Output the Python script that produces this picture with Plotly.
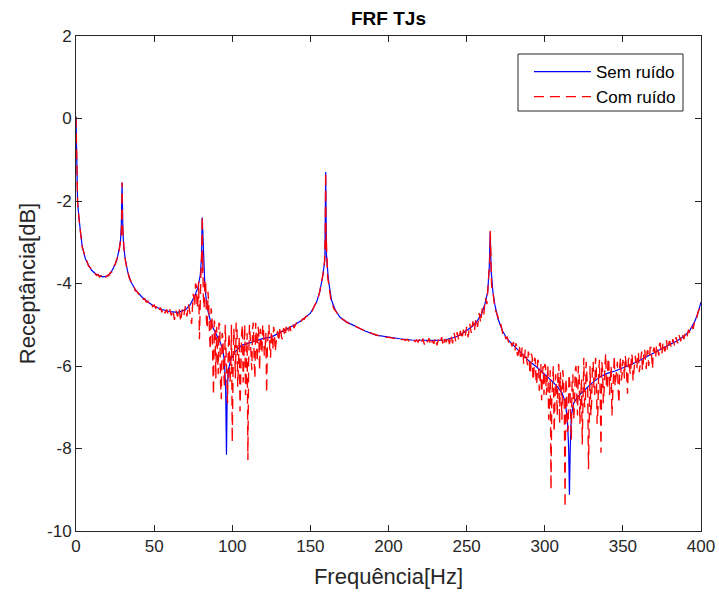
import plotly.graph_objects as go

# ---------------- data ----------------
# Clean FRF ("Sem ruído"): frequency [Hz] and receptance [dB]
blue_f = [0, 0.3, 0.6, 1, 1.5, 2, 3, 4, 5, 6, 8, 10, 13, 17, 20, 22, 24, 26, 27.5, 28.5, 29, 29.5,
          30, 30.5, 31.5, 33, 35, 38, 42, 46, 50, 55, 60, 65, 70, 73, 76, 78, 79.5, 80.3, 80.8, 81.6,
          82.5, 84, 86, 88, 90, 92, 94, 95, 95.8, 96.3, 96.8, 97.5, 99, 102, 106, 110, 115, 120, 125,
          130, 135, 140, 145, 150, 154, 156, 158, 159.3, 159.8, 160.3, 161.5, 163.5, 166, 169, 173,
          178, 185, 192, 200, 207, 215, 222, 230, 236, 241, 246, 250, 254, 257, 260, 262, 263.5,
          264.5, 265.1, 265.7, 266.8, 268, 270, 273, 276, 280, 285, 290, 295, 300, 305, 308, 311,
          313, 314.5, 315.3, 315.8, 316.3, 317, 318.5, 321, 325, 330, 335, 340, 345, 350, 355, 360,
          365, 370, 375, 380, 385, 390, 393, 396, 398, 400]
blue_v = [0.05, -1.0, -1.75, -2.0, -2.25, -2.5, -2.8, -3.1, -3.25, -3.4, -3.55, -3.68, -3.78, -3.84,
          -3.82, -3.76, -3.62, -3.45, -3.2, -2.95, -2.6, -1.55,
          -2.7, -3.1, -3.4, -3.7, -3.95, -4.15, -4.32, -4.45, -4.55, -4.63, -4.68, -4.7, -4.64, -4.52,
          -4.3, -4.1, -3.8, -3.4, -2.4, -3.5,
          -4.1, -4.6, -4.9, -5.1, -5.25, -5.4, -5.6, -5.9, -6.6, -8.15, -6.6, -6.1, -5.85, -5.65, -5.5,
          -5.45, -5.38, -5.33, -5.3,
          -5.2, -5.12, -5.0, -4.88, -4.72, -4.45, -4.2, -3.8, -3.4, -1.3, -3.3, -3.9, -4.4, -4.65,
          -4.82, -4.93,
          -5.02, -5.15, -5.25, -5.3, -5.34, -5.37, -5.38, -5.38, -5.37, -5.32, -5.25, -5.15, -5.03,
          -4.9, -4.7, -4.45, -4.2,
          -3.6, -2.75, -3.7, -4.2, -4.5, -4.85, -5.15, -5.35, -5.5, -5.7, -5.88, -6.03, -6.2, -6.38,
          -6.5, -6.65,
          -6.85, -7.3, -8.0, -9.12, -8.0, -7.2, -6.9, -6.75, -6.6, -6.42, -6.27, -6.18, -6.12, -6.05,
          -5.97, -5.88,
          -5.78, -5.68, -5.58, -5.48, -5.38, -5.25, -5.13, -4.92, -4.72, -4.45]

# Noisy FRF ("Com ruído"): one value per Hz from 0 to 400 Hz
red_grid_v = [
    0.03, -2.02, -2.47, -2.78, -3.12, -3.24, -3.40, -3.46, -3.58, -3.61,      # 0-9
    -3.66, -3.73, -3.74, -3.80, -3.78, -3.84, -3.81, -3.86, -3.82, -3.85,     # 10-19
    -3.80, -3.81, -3.73, -3.72, -3.58, -3.55, -3.41, -3.35, -3.10, -2.85,     # 20-29
    -2.75, -3.28, -3.53, -3.68, -3.86, -3.93, -4.05, -4.06, -4.18, -4.19,     # 30-39
    -4.24, -4.31, -4.30, -4.38, -4.37, -4.45, -4.43, -4.51, -4.47, -4.56,     # 40-49
    -4.52, -4.60, -4.55, -4.66, -4.58, -4.70, -4.60, -4.72, -4.63, -4.75,     # 50-59
    -4.62, -4.78, -4.64, -4.88, -4.66, -4.80, -4.60, -4.92, -4.63, -4.79,     # 60-69
    -4.55, -4.80, -4.50, -4.75, -4.98, -4.25, -4.55, -4.05, -4.45, -5.35,     # 70-79
    -3.70, -3.75, -4.60, -3.95, -5.10, -4.55, -5.60, -4.75, -6.70, -5.00,     # 80-89
    -5.05, -6.20, -5.00, -6.80, -5.30, -6.50, -5.60, -6.90, -5.20, -6.10,     # 90-99
    -7.85, -5.10, -6.30, -5.00, -6.00, -7.10, -5.20, -6.40, -5.00, -6.20,     # 100-109
    -8.28, -5.00, -6.00, -5.10, -5.80, -4.95, -5.90, -5.20, -5.10, -5.70,     # 110-119
    -5.05, -5.60, -6.65, -5.10, -5.55, -5.15, -5.60, -5.20, -5.45, -5.15,     # 120-129
    -5.30, -5.10, -5.35, -5.08, -5.25, -5.10, -5.18, -5.04, -5.10, -5.00,     # 130-139
    -5.03, -4.96, -4.98, -4.91, -4.92, -4.86, -4.87, -4.80, -4.79, -4.74,     # 140-149
    -4.71, -4.68, -4.59, -4.54, -4.44, -4.34, -4.19, -4.03, -3.79, -3.50,     # 150-159
    -3.15, -3.82, -4.10, -4.36, -4.49, -4.61, -4.66, -4.73, -4.77, -4.83,     # 160-169
    -4.85, -4.89, -4.90, -4.94, -4.95, -4.98, -4.99, -5.01, -5.02, -5.04,     # 170-179
    -5.06, -5.07, -5.10, -5.11, -5.13, -5.15, -5.16, -5.18, -5.19, -5.21,     # 180-189
    -5.22, -5.23, -5.25, -5.26, -5.27, -5.28, -5.28, -5.29, -5.30, -5.30,     # 190-199
    -5.31, -5.31, -5.32, -5.33, -5.33, -5.34, -5.34, -5.35, -5.35, -5.36,     # 200-209
    -5.36, -5.38, -5.35, -5.39, -5.37, -5.40, -5.36, -5.41, -5.37, -5.42,     # 210-219
    -5.35, -5.45, -5.34, -5.48, -5.36, -5.42, -5.33, -5.50, -5.38, -5.46,     # 220-229
    -5.32, -5.50, -5.36, -5.45, -5.30, -5.52, -5.35, -5.42, -5.28, -5.47,     # 230-239
    -5.25, -5.45, -5.20, -5.40, -5.18, -5.38, -5.15, -5.35, -5.12, -5.30,     # 240-249
    -5.05, -5.30, -4.98, -5.20, -4.92, -5.15, -4.85, -5.05, -4.72, -4.95,     # 250-259
    -4.60, -4.75, -4.35, -4.50, -3.90, -3.30, -4.05, -4.25, -4.60, -4.70,     # 260-269
    -4.80, -5.00, -5.00, -5.20, -5.17, -5.33, -5.30, -5.44, -5.38, -5.52,     # 270-279
    -5.42, -5.62, -5.50, -5.72, -5.58, -5.80, -5.62, -5.90, -5.70, -5.98,     # 280-289
    -5.75, -6.10, -5.80, -6.20, -5.85, -6.35, -5.90, -6.40, -6.83, -6.00,     # 290-299
    -5.95, -6.70, -6.00, -7.00, -9.00, -6.10, -7.60, -6.20, -7.20, -5.95,     # 300-309
    -6.15, -7.30, -6.30, -9.43, -6.60, -7.50, -6.40, -7.80, -6.20, -7.00,     # 310-319
    -6.00, -7.20, -6.10, -6.60, -7.90, -5.80, -6.90, -6.20, -8.50, -6.00,     # 320-329
    -6.90, -5.90, -6.70, -6.00, -7.10, -5.85, -8.10, -6.10, -6.60, -5.70,     # 330-339
    -6.55, -5.90, -6.40, -7.20, -5.85, -6.50, -5.95, -6.60, -6.00, -6.35,     # 340-349
    -5.85, -6.30, -5.90, -6.67, -5.80, -6.20, -5.78, -6.10, -5.75, -6.05,     # 350-359
    -5.70, -6.00, -5.65, -5.95, -5.60, -6.07, -5.62, -5.85, -5.55, -6.07,     # 360-369
    -5.55, -5.80, -5.50, -5.75, -5.45, -5.70, -5.42, -5.65, -5.38, -5.60,     # 370-379
    -5.40, -5.55, -5.35, -5.50, -5.30, -5.45, -5.25, -5.40, -5.22, -5.35,     # 380-389
    -5.20, -5.30, -5.12, -5.20, -5.05, -5.10, -4.90, -4.90, -4.70, -4.62,     # 390-399
    -4.45,                                                                    # 400
]
red_grid_f = list(range(len(red_grid_v)))

# Extra noisy samples midway between the 1-Hz points in the two noisy bands
red_band1_v = [                                                               # 75.5 ... 79.5
    -4.35, -4.00, -4.60, -3.95, -4.20,
]
red_band1_f = [75.5, 76.5, 77.5, 78.5, 79.5]
red_band2_v = [                                                               # 81.5 ... 139.5
    -4.30, -3.90, -4.90, -4.20, -5.30, -4.60, -5.80, -4.90, -6.30,           # 81.5-89.5
    -5.60, -4.95, -6.40, -5.20, -6.10, -5.00, -6.60, -5.50, -6.40, -5.00,     # 90.5-99.5
    -6.20, -5.50, -4.95, -6.50, -5.30, -5.90, -5.00, -5.70, -6.70, -5.20,     # 100.5-109.5
    -5.90, -5.30, -6.10, -4.95, -6.30, -5.50, -5.05, -6.10, -5.30, -5.00,     # 110.5-119.5
    -5.75, -5.20, -5.50, -5.00, -5.80, -5.30, -5.05, -5.65, -5.20, -5.40,     # 120.5-129.5
    -5.05, -5.30, -5.15, -5.28, -5.05, -5.22, -5.08, -5.15, -5.02, -5.08,     # 130.5-139.5
]
red_band2_f0 = 81.5
red_band3_v = [                                                               # 280.5 ... 379.5
    -5.60, -5.45, -5.75, -5.50, -5.85, -5.55, -5.95, -5.60, -5.85, -5.65,     # 280.5-289.5
    -6.20, -5.70, -6.35, -5.80, -6.45, -5.85, -6.60, -5.95, -6.20, -6.70,     # 290.5-299.5
    -6.00, -6.40, -7.30, -6.10, -6.80, -6.00, -6.90, -6.50, -6.05, -7.40,     # 300.5-309.5
    -6.60, -6.10, -7.00, -6.30, -7.60, -6.20, -7.10, -6.35, -7.30, -6.10,     # 310.5-319.5
    -6.70, -6.00, -7.40, -6.30, -6.05, -7.00, -5.90, -6.60, -6.10, -7.20,     # 320.5-329.5
    -6.00, -6.60, -5.80, -7.40, -6.20, -6.70, -5.90, -6.90, -6.00, -6.50,     # 330.5-339.5
    -5.80, -6.70, -6.00, -6.50, -5.75, -6.30, -5.90, -6.90, -5.80, -6.20,     # 340.5-349.5
    -6.00, -5.75, -6.40, -5.85, -6.15, -5.70, -6.35, -5.80, -6.05, -5.68,     # 350.5-359.5
    -6.15, -5.75, -6.10, -5.60, -5.90, -5.65, -6.00, -5.55, -5.80, -5.60,     # 360.5-369.5
    -5.75, -5.50, -5.65, -5.45, -5.72, -5.48, -5.60, -5.40, -5.62, -5.42,     # 370.5-379.5
]
red_band3_f0 = 280.5

# Extra noisy samples at the sharp resonance peaks
red_peak_f = [0.3, 0.6, 29.3, 29.5, 29.7, 80.5, 80.8, 81.1, 159.5, 159.8, 160.1, 264.7, 265.1, 265.5]
red_peak_v = [-0.9, -1.7, -2.4, -1.55, -2.5, -3.2, -2.37, -3.3, -2.9, -1.3, -2.8, -3.4, -2.72, -3.5]

x_ticks = [0, 50, 100, 150, 200, 250, 300, 350, 400]
y_ticks = [-10, -8, -6, -4, -2, 0, 2]

# ---------------- build ----------------
red_band2_f = [red_band2_f0 + i for i in range(len(red_band2_v))]
red_band3_f = [red_band3_f0 + i for i in range(len(red_band3_v))]
all_f = red_grid_f + red_band1_f + red_band2_f + red_band3_f + red_peak_f
all_v = red_grid_v + red_band1_v + red_band2_v + red_band3_v + red_peak_v
red_pairs = sorted(zip(all_f, all_v))
red_f = [p[0] for p in red_pairs]
red_v = [p[1] for p in red_pairs]

FONT = "Liberation Sans, Arial, Helvetica, sans-serif"
AX = "#262626"

# plot-area pixel geometry (719 x 596 page)
L, R, T, B = 76, 18, 36, 65
PW, PH = 719 - L - R, 596 - T - B

fig = go.Figure()
fig.add_trace(go.Scatter(x=blue_f, y=blue_v, mode="lines", name="Sem ruído",
                         line=dict(color="#0000FF", width=1.2)))
fig.add_trace(go.Scatter(x=red_f, y=red_v, mode="lines", name="Com ruído",
                         line=dict(color="#FF0000", width=1.35, dash="10px,6px")))

axis_common = dict(showline=True, linecolor=AX, linewidth=1, mirror="ticks",
                   ticks="inside", ticklen=6, tickcolor=AX, tickwidth=1,
                   showgrid=False, zeroline=False,
                   tickfont=dict(family=FONT, size=17, color=AX))

# legend frame (px): 518..683 x 54..111
box_x0, box_x1, box_y0, box_y1 = 518, 683, 54, 111
fig.add_shape(type="rect", xref="paper", yref="paper",
              x0=(box_x0 - L) / PW, x1=(box_x1 - L) / PW,
              y0=(596 - B - box_y1) / PH, y1=(596 - B - box_y0) / PH,
              line=dict(color=AX, width=1), fillcolor="white", layer="above")

fig.update_layout(
    width=719, height=596,
    margin=dict(l=L, r=R, t=T, b=B, autoexpand=False),
    paper_bgcolor="white", plot_bgcolor="white",
    font=dict(family=FONT, color=AX),
    title=dict(text="<b>FRF TJs</b>", x=0.5, xref="paper", xanchor="center",
               y=1 - 18 / 596, yref="container", yanchor="middle",
               font=dict(family=FONT, size=19, color="#000000")),
    xaxis=dict(range=[0, 400], tickvals=x_ticks, ticktext=[str(v) for v in x_ticks],
               title=dict(text="Frequência[Hz]", font=dict(family=FONT, size=22, color=AX),
                          standoff=13),
               **axis_common),
    yaxis=dict(range=[-10, 2], tickvals=y_ticks, ticktext=[str(v) for v in y_ticks],
               title=dict(text="Receptância[dB]", font=dict(family=FONT, size=22, color=AX),
                          standoff=5),
               **axis_common),
    legend=dict(x=(529 - L) / PW, y=(596 - B - 54) / PH, xanchor="left", yanchor="top",
                bgcolor="rgba(0,0,0,0)", borderwidth=0,
                font=dict(family=FONT, size=17, color="#000000"),
                itemwidth=57, tracegroupgap=0),
    showlegend=True,
)

fig.write_html("out.html")
